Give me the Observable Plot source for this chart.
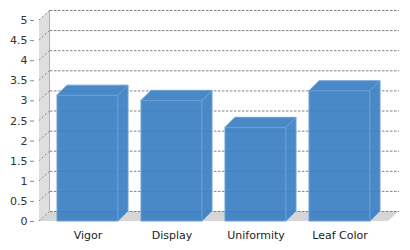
<!DOCTYPE html>
<html><head><meta charset="utf-8">
<script src="https://cdn.jsdelivr.net/npm/d3@7"></script>
<script src="https://cdn.jsdelivr.net/npm/@observablehq/plot@0.6"></script>
<style>html,body{margin:0;padding:0;background:#fff} svg{display:block}</style>
</head><body><div id="chart"></div>
<script>
const categories = ["Vigor", "Display", "Uniformity", "Leaf Color"];
const values = [3.13, 3.0, 2.33, 3.24];
const yTicks = [0, 0.5, 1, 1.5, 2, 2.5, 3, 3.5, 4, 4.5, 5];

const data = categories.map((c, i) => ({category: c, value: values[i]}));

const DX = 11, DY = 10;   // wall / grid depth
const BDX = 10, BDY = 10; // bar depth

function decor(index, scales, vals, dims) {
  const {width, marginLeft, marginRight} = dims;
  const xL = marginLeft, xR = width - marginRight;
  const y0 = scales.y(0), yTop = scales.y(5);
  const g = d3.create("svg:g");
  g.append("path")
    .attr("d", `M${xL},${y0}L${xR},${y0}L${xR + DX},${y0 - DY}L${xL + DX},${y0 - DY}Z`)
    .attr("fill", "#d6d6d6");
  g.append("path")
    .attr("d", `M${xL},${y0}L${xL},${yTop}L${xL + DX},${yTop - DY}L${xL + DX},${y0 - DY}Z`)
    .attr("fill", "#dedede");
  g.append("line")
    .attr("x1", xL + DX - 0.5).attr("x2", xL + DX - 0.5)
    .attr("y1", yTop - DY).attr("y2", y0 - DY)
    .attr("stroke", "#b2b2b2");
  for (const t of yTicks) {
    const y = scales.y(t);
    g.append("line")
      .attr("x1", xL).attr("y1", y)
      .attr("x2", xL + DX).attr("y2", y - DY)
      .attr("stroke", "#888").attr("stroke-dasharray", "2,2");
  }
  return g.node();
}

const chart = Plot.plot({
  width: 410,
  height: 250,
  marginLeft: 39,
  marginRight: 22,
  marginTop: 20,
  marginBottom: 29,
  style: {fontFamily: "DejaVu Sans", fontSize: "11px", background: "#fff"},
  x: {type: "band", domain: categories, paddingInner: 0.278, paddingOuter: 0.2, align: 0.5, label: null},
  y: {domain: [0, 5], label: null},
  marks: [
    decor,
    Plot.gridY(yTicks, {dx: DX, dy: -DY, stroke: "#808080", strokeOpacity: 1, strokeDasharray: "2.5,1.5"}),
    Plot.barY(data, {
      x: "category", y: "value",
      fill: "#3a7fc3", fillOpacity: 0.92,
      stroke: "#6c9fd6", strokeWidth: 1,
      render(index, scales, vals, dims, ctx, next) {
        const g = next(index, scales, vals, dims, ctx);
        const sel = d3.select(g);
        const rects = [...g.querySelectorAll("rect")];
        for (const r of rects) {
          const x0 = +r.getAttribute("x"), w = +r.getAttribute("width");
          const y = +r.getAttribute("y"), h = +r.getAttribute("height");
          const x1 = x0 + w, yb = y + h;
          const grp = sel.append("g");
          grp.append("path")
            .attr("d", `M${x1},${y}L${x1 + BDX},${y - BDY}L${x1 + BDX},${yb - BDY}L${x1},${yb}Z`)
            .attr("fill", "#3a7fc3").attr("fill-opacity", 0.92)
            .attr("stroke", "#6c9fd6").attr("stroke-width", 1);
          grp.append("path")
            .attr("d", `M${x0},${y}L${x0 + BDX},${y - BDY}L${x1 + BDX},${y - BDY}L${x1},${y}Z`)
            .attr("fill", "#3a7fc3").attr("fill-opacity", 0.92)
            .attr("stroke", "#6c9fd6").attr("stroke-width", 1);
        }
        return g;
      }
    }),
    Plot.axisY(yTicks, {tickSize: 4, tickPadding: 3, dx: -5, stroke: "#888", fill: "#333", fontSize: 11, tickFormat: d => String(d), label: null}),
    Plot.axisX({tickSize: 0, tickPadding: 10, fill: "#222", fontSize: 11, label: null})
  ]
});
document.getElementById("chart").append(chart);
</script>
</body></html>
